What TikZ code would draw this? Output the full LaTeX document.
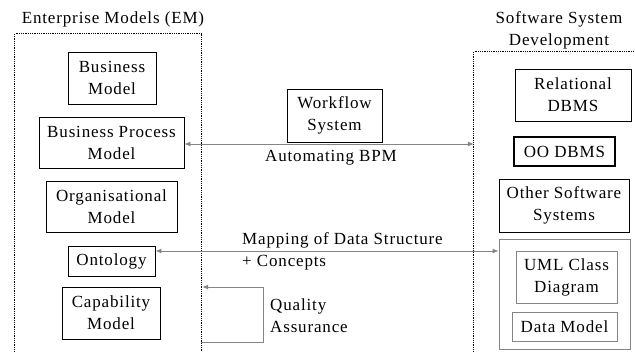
\documentclass[tikz,border=0pt]{standalone}
\usepackage{fontspec}
\setmainfont{Liberation Serif}[LetterSpace=5]
\usetikzlibrary{arrows.meta}
\definecolor{linegray}{HTML}{858585}
\tikzset{
  box/.style={draw=black, line width=0.9pt, inner sep=0pt, align=center, font=\fontsize{17}{22}\selectfont},
  gbox/.style={box, draw=linegray},
  frame/.style={draw=none, inner sep=0pt},
  dotline/.style={draw=black, line width=0.9pt, dash pattern=on 0.9pt off 0.9pt},
  conn/.style={draw=linegray, line width=1pt, {Latex[length=6pt,width=5pt]}-{Latex[length=6pt,width=5pt]}},
  conn1/.style={draw=linegray, line width=1pt, -{Latex[length=6pt,width=5pt]}},
  lbl/.style={inner sep=0pt, font=\fontsize{17}{22}\selectfont}
}
\begin{document}
\begin{tikzpicture}[x=1pt,y=-1pt]
\useasboundingbox (0,0) rectangle (635,351);
% frames
\node[frame, minimum width=186pt, minimum height=321pt] (em) at (108,194.5) {};
\node[frame, minimum width=166pt, minimum height=303pt] (sd) at (557,203.5) {};
\draw[dotline] (em.south west) -- (em.north west) -- (em.north east) -- (em.south east);
\draw[dotline] (sd.south west) -- (sd.north west) -- (sd.north east);
% titles
\node[lbl] (emt) at (113,19) {Enterprise Models (EM)};
\node[lbl, align=center] (sdt) at (559,30) {Software System\\Development};
% left boxes
\node[box, minimum width=88pt, minimum height=52pt] (bm) at (112,78) {Business\\Model};
\node[box, minimum width=145pt, minimum height=51pt] (bpm) at (111.5,142.5) {Business Process\\Model};
\node[box, minimum width=131pt, minimum height=51pt] (org) at (111.5,206.5) {Organisational\\Model};
\node[box, minimum width=87pt, minimum height=30pt] (onto) at (111.5,261) {Ontology};
\node[box, minimum width=98pt, minimum height=52pt] (cap) at (111,313) {Capability\\Model};
% middle
\node[box, minimum width=95pt, minimum height=53pt] (wf) at (334.5,115.5) {Workflow\\System};
% right boxes
\node[box, minimum width=116pt, minimum height=52pt] (rdb) at (573,95) {Relational\\DBMS};
\node[box, line width=1.1pt, minimum width=101pt, minimum height=29pt] (oo) at (564.5,151.5) {OO DBMS};
\node[box, minimum width=130pt, minimum height=53pt] (oss) at (564,205.5) {Other Software\\Systems};
\node[gbox, minimum width=131pt, minimum height=110pt] (grp) at (564.5,294) {};
\node[gbox, minimum width=101pt, minimum height=52pt] (uml) at (566.5,277) {UML Class\\Diagram};
\node[gbox, minimum width=105pt, minimum height=29pt] (dm) at (564.5,326.5) {Data Model};
% connectors
\draw[conn] ([yshift=-1.5]bpm.east) -- ([yshift=-1.5]bpm.east -| sd.west);
\node[lbl] (autl) at (331,158) {Automating BPM};
\draw[conn] ([yshift=10]onto.east) -- ([yshift=10]onto.east -| grp.west);
\node[lbl, anchor=west, align=left] (mapl) at (242,251.5) {Mapping of Data Structure\\+ Concepts};
\coordinate (qa1) at (em.east |- 0,342);
\coordinate (qa2) at ([xshift=1]em.east |- 0,287);
\draw[conn1] (qa1) -- (263,342) |- (qa2);
\node[lbl, anchor=west, align=left] (qal) at (270,316) {Quality\\Assurance};
\end{tikzpicture}
\end{document}
